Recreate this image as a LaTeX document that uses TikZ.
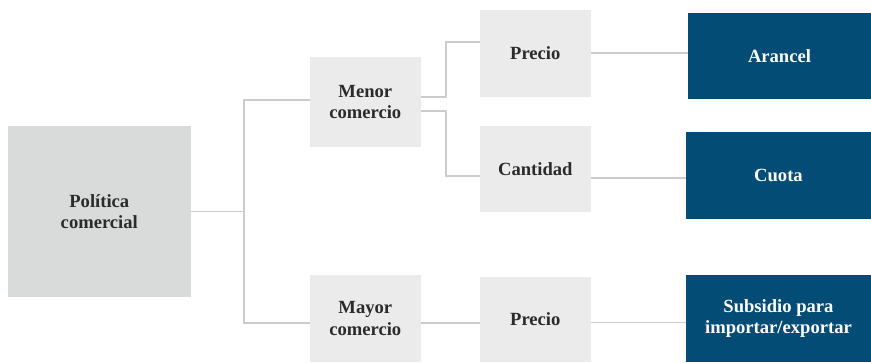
\documentclass[tikz,border=0pt]{standalone}
\usepackage{fontspec}
\setmainfont{Liberation Serif}
\usepackage{xcolor}
\usepackage{tikz}
\usetikzlibrary{positioning, calc}
\definecolor{pcgray}{HTML}{D9DBDA}
\definecolor{pclight}{HTML}{EBEBEB}
\definecolor{pcblue}{HTML}{034C76}
\definecolor{pcline}{HTML}{CCCCCC}
\definecolor{pctext}{HTML}{2B2B2B}

\begin{document}
\begin{tikzpicture}[
    x=1pt, y=-1pt,
    box/.style={inner sep=0pt, align=center, font=\fontsize{18.6}{21.5}\selectfont\bfseries},
    rootbox/.style={box, fill=pcgray, text=pctext, minimum width=182.7pt, minimum height=171pt},
    lbox/.style={box, fill=pclight, text=pctext, minimum width=110.7pt},
    dbox/.style={box, fill=pcblue, text=white, minimum width=185pt},
    link/.style={draw=pcline, line width=1.8pt},
]
\useasboundingbox (0,0) rectangle (871,362);

% Root
\node[rootbox] (pol) at (99.3,211.5) {Política\\comercial};

% Second level
\node[lbox, minimum height=90pt] (menor) at (365.3,102) {Menor\\comercio};
\node[lbox, minimum height=87pt] (mayor) at (365.3,318.5) {Mayor\\comercio};

% Third level
\node[lbox, minimum height=87pt] (precioA) at (535.3,53.5) {Precio};
\node[lbox, minimum height=86pt] (cantidad) at (535.3,169) {Cantidad};
\node[lbox, minimum height=85pt] (precioB) at (535.3,319.5) {Precio};

% Instruments
\node[dbox, minimum width=183pt, minimum height=86.6pt] (arancel) at (779.5,56) {Arancel};
\node[dbox, minimum height=86.7pt] (cuota) at (778.5,175.3) {Cuota};
\node[dbox, minimum height=87pt] (subsidio) at (778.5,318.5) {Subsidio para\\importar/exportar};

% Connectors
\coordinate (bus) at (244.3,211.5);
\draw[link] (pol.east) -- (bus);
\draw[link] ([yshift=2pt]menor.west) -| (bus) |- ([yshift=-4.5pt]mayor.west);
\draw[link] ([yshift=4.7pt]menor.east) -- ++(25.3,0) |- ([yshift=11.5pt]precioA.west);
\draw[link] ([yshift=-8.7pt]menor.east) -- ++(25.3,0) |- ([yshift=-7pt]cantidad.west);
\draw[link] ([yshift=0.8pt]precioA.east) -- ([yshift=0.8pt]precioA.east -| arancel.west);
\draw[link] ([yshift=-8.7pt]cantidad.east) -- ([yshift=-8.7pt]cantidad.east -| cuota.west);
\draw[link] ([yshift=-4.5pt]mayor.east) -- ([yshift=-4.5pt]mayor.east -| precioB.west);
\draw[link] ([yshift=-3pt]precioB.east) -- ([yshift=-3pt]precioB.east -| subsidio.west);

\end{tikzpicture}
\end{document}
